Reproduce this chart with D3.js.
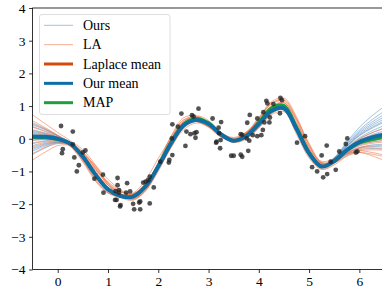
<!DOCTYPE html>
<html><head><meta charset="utf-8">
<script src="https://cdn.jsdelivr.net/npm/d3@7"></script>
<style>
body{margin:0;background:#fff}
text{font-family:"Liberation Serif","DejaVu Serif",serif}
</style>
</head><body>
<svg id="c" width="382" height="294"></svg>
<script>
// ---------- data ----------
const xGrid = [-0.5,-0.25,0,0.25,0.5,0.75,1,1.25,1.5,1.75,2,2.25,2.5,2.75,3,3.25,3.5,3.75,4,4.25,4.5,4.75,5,5.25,5.5,5.75,6,6.25,6.5];
const ourMean     = [0.07,0.06,0.0,-0.15,-0.55,-1.1,-1.55,-1.75,-1.77,-1.45,-0.85,-0.15,0.4,0.57,0.45,0.13,-0.06,0.08,0.45,0.85,0.93,0.3,-0.45,-0.85,-0.68,-0.35,-0.1,0.04,0.13];
const laplaceMean = [0.05,0.04,-0.01,-0.16,-0.56,-1.1,-1.54,-1.74,-1.76,-1.45,-0.85,-0.14,0.42,0.58,0.46,0.13,-0.06,0.09,0.47,0.88,0.95,0.32,-0.44,-0.84,-0.68,-0.35,-0.12,-0.02,0.05];
const mapCurve    = [0.02,0.02,-0.03,-0.15,-0.53,-1.08,-1.55,-1.76,-1.77,-1.43,-0.8,-0.1,0.45,0.63,0.5,0.15,-0.05,0.11,0.52,0.95,1.03,0.38,-0.4,-0.84,-0.7,-0.37,-0.14,-0.04,0.04];

// deviation of each "Ours" sample from ourMean, read at xGrid
const ourSampleDeviations = [
[0.42,0.25,0.1,0.03,0.01,0,-0.01,0,0.01,0.02,0.01,0,-0.01,-0.02,-0.01,0,0.01,0.02,0.01,0,-0.01,0,0.01,0.03,0.1,0.25,0.45,0.66,0.86],
[0.3,0.18,0.08,0.02,0,-0.01,0,0.01,0.02,0.01,0,-0.01,-0.02,-0.01,0,0.01,0.02,0.01,0,-0.01,-0.02,-0.01,0,0.02,0.08,0.18,0.32,0.47,0.62],
[0.2,0.12,0.05,0.02,0.01,0,0.01,0.02,0.01,0,-0.01,0,0.01,0.02,0.01,0,-0.01,-0.02,-0.01,0,0.01,0.02,0.01,0.01,0.05,0.13,0.24,0.36,0.48],
[0.12,0.07,0.03,0.01,0,-0.01,-0.02,-0.01,0,0.01,0.02,0.01,0,-0.01,-0.02,-0.01,0,0.01,0.02,0.01,0,-0.01,-0.01,0,0.04,0.1,0.19,0.28,0.38],
[0.05,0.03,0.01,0,0.01,0.02,0.01,0,-0.01,-0.02,-0.01,0,0.01,0.02,0.01,0,-0.01,-0.01,0,0.01,0.02,0.01,0,0.01,0.03,0.07,0.13,0.2,0.28],
[-0.05,-0.03,-0.01,0,0,0.01,0.02,0.01,0,-0.01,-0.02,-0.01,0,0.01,0.02,0.01,0,-0.01,-0.02,-0.01,0,0.01,0.01,0,0.02,0.05,0.09,0.14,0.2],
[-0.12,-0.07,-0.03,-0.01,0,0,-0.01,-0.02,-0.01,0,0.01,0.02,0.01,0,-0.01,-0.02,-0.01,0,0.01,0.02,0.01,0,-0.01,-0.01,0,0.02,0.05,0.08,0.12],
[-0.2,-0.12,-0.05,-0.02,-0.01,0,0.01,0.02,0.01,0,-0.01,-0.02,-0.01,0,0.01,0.02,0.01,0,-0.01,-0.02,-0.01,0,0.01,0.01,0,0,0.01,0.02,0.03],
[-0.28,-0.17,-0.07,-0.02,0,0.01,0,-0.01,-0.02,-0.01,0,0.01,0.02,0.01,0,-0.01,-0.02,-0.01,0,0.01,0.02,0.01,0,-0.01,-0.01,-0.02,-0.04,-0.06,-0.08],
[-0.36,-0.22,-0.1,-0.03,-0.01,0,0.01,0,-0.01,-0.02,-0.01,0,0.01,0.02,0.01,0,-0.01,-0.02,-0.01,0,0.01,0,-0.01,-0.02,-0.03,-0.06,-0.1,-0.14,-0.18],
[-0.45,-0.28,-0.12,-0.04,-0.01,0,-0.01,-0.02,-0.01,0,0.01,0.02,0.01,0,-0.01,-0.02,-0.01,0,0.01,0.02,0.01,0,-0.01,-0.02,-0.05,-0.1,-0.17,-0.23,-0.3],
[-0.55,-0.34,-0.15,-0.05,-0.02,0,0.01,0.02,0.01,0,-0.01,-0.02,-0.01,0,0.01,0.02,0.01,0,-0.01,-0.02,-0.01,0,0.01,-0.01,-0.06,-0.14,-0.24,-0.34,-0.45],
[0.35,0.22,0.09,0.03,0.01,0,-0.01,-0.01,0,0.01,0.02,0.01,0,-0.01,-0.02,-0.01,0,0.01,0.02,0.01,0,-0.01,-0.01,0.02,0.09,0.21,0.37,0.54,0.72],
[-0.02,-0.01,0,0,0.01,0.01,0,-0.01,-0.02,-0.01,0,0.01,0.02,0.01,0,-0.01,-0.02,-0.01,0,0.01,0.02,0.01,0,0.02,0.07,0.16,0.28,0.41,0.55],
[0.15,0.09,0.04,0.01,0,0,0.01,0.01,0,-0.01,-0.02,-0.01,0,0.01,0.02,0.01,0,-0.01,-0.02,-0.01,0,0.01,0,-0.02,-0.05,-0.11,-0.19,-0.28,-0.38],
[-0.4,-0.25,-0.11,-0.03,-0.01,0,0,0.01,0.02,0.01,0,-0.01,-0.02,-0.01,0,0.01,0.02,0.01,0,-0.01,-0.02,-0.01,0,0.01,0.05,0.12,0.21,0.31,0.42]
];

// deviation of each "LA" sample from laplaceMean, read at xGrid
const laSampleDeviations = [
[0.68,0.42,0.2,0.1,0.22,0.3,0.15,0.05,0.1,0.2,0.25,0.15,0.08,0.12,0.1,0.05,0.08,0.1,0.15,0.2,0.25,0.3,0.25,0.1,0.0,-0.12,-0.3,-0.5,-0.72],
[0.5,0.3,0.12,0.02,0.1,0.2,0.12,0.0,-0.05,-0.05,0.05,0.1,0.05,0.0,-0.05,-0.02,0.03,0.08,0.1,0.12,0.15,0.2,0.15,0.05,0.02,0.05,0.12,0.2,0.28],
[0.3,0.18,0.06,-0.05,-0.12,-0.15,-0.1,-0.05,-0.08,-0.12,-0.15,-0.1,-0.05,0.0,0.02,0.0,-0.05,-0.1,-0.12,-0.1,-0.05,-0.02,-0.05,-0.08,-0.08,-0.04,0.02,0.06,0.1],
[0.12,0.06,0.0,0.05,0.15,0.25,0.2,0.05,-0.08,-0.12,-0.05,0.05,0.1,0.08,0.0,-0.05,-0.05,0.0,0.05,0.1,0.05,-0.05,-0.08,-0.05,0.0,-0.02,-0.05,-0.08,-0.1],
[-0.1,-0.06,-0.02,0.02,0.08,0.12,0.05,-0.05,-0.12,-0.1,0.0,0.12,0.15,0.1,0.02,-0.02,0.0,0.05,0.12,0.18,0.22,0.25,0.15,0.02,-0.05,-0.1,-0.15,-0.2,-0.25],
[-0.3,-0.18,-0.08,0.0,0.1,0.18,0.12,0.02,-0.1,-0.15,-0.05,0.1,0.05,-0.05,-0.1,-0.08,0.02,0.08,0.1,0.05,-0.08,-0.18,-0.15,-0.1,-0.12,-0.18,-0.25,-0.32,-0.4],
[-0.5,-0.3,-0.12,-0.05,-0.1,-0.15,-0.12,-0.05,0.05,0.1,0.0,-0.12,-0.15,-0.1,-0.1,-0.05,0.0,-0.05,-0.12,-0.15,-0.12,-0.05,0.05,0.08,0.0,-0.12,-0.25,-0.4,-0.55],
[-0.7,-0.45,-0.2,-0.05,0.05,0.15,0.22,0.15,0.05,0.05,0.12,0.2,0.15,0.05,0.0,0.02,0.05,0.1,0.18,0.22,0.18,0.1,0.12,0.15,0.08,0.05,0.08,0.12,0.15],
[0.2,0.12,0.04,0.0,0.12,0.28,0.3,0.18,0.05,-0.02,0.0,0.05,0.02,-0.05,-0.08,-0.02,0.05,0.1,0.08,0.02,0.05,0.15,0.2,0.1,-0.02,-0.1,-0.18,-0.26,-0.35],
[0.4,0.25,0.1,0.02,0.0,0.05,0.12,0.12,0.08,0.05,0.08,0.12,0.1,0.05,0.02,0.05,0.1,0.12,0.1,0.08,0.15,0.28,0.3,0.12,-0.05,-0.18,-0.3,-0.45,-0.6],
[0.0,0.0,-0.02,-0.08,-0.15,-0.2,-0.12,0.0,0.08,0.05,-0.08,-0.15,-0.1,-0.05,-0.1,-0.08,-0.02,-0.08,-0.15,-0.12,-0.05,0.0,0.05,0.1,0.05,-0.02,-0.02,-0.01,0.0],
[-0.2,-0.12,-0.05,0.02,0.15,0.22,0.18,0.12,0.05,0.02,0.1,0.2,0.22,0.12,0.02,-0.02,0.0,0.05,0.15,0.25,0.3,0.35,0.25,0.08,-0.05,-0.08,-0.1,-0.12,-0.15]
];

const pointsX = [0.066,0.30,0.10,0.085,0.30,0.33,0.42,0.38,0.55,0.50,0.90,0.73,0.91,1.19,1.19,1.22,1.38,1.17,1.24,1.15,1.22,1.36,1.44,1.14,1.25,1.50,1.62,1.64,1.52,1.64,1.83,1.70,1.75,1.80,1.83,1.91,2.04,2.22,2.21,2.28,2.54,2.27,2.28,2.39,2.46,2.67,2.70,2.80,2.64,2.56,2.74,2.72,2.76,3.08,3.25,3.20,3.16,3.24,3.23,3.21,3.15,3.45,3.50,3.64,3.67,3.64,3.67,3.76,3.77,3.82,3.79,3.81,3.88,3.97,4.05,4.08,4.11,3.97,4.09,4.15,4.17,4.21,4.22,4.29,4.43,4.46,4.42,4.76,4.92,5.06,5.16,5.35,5.76,5.73,5.25,5.28,5.36,5.43,5.53,5.60,5.93,5.96];
const pointsY = [0.39,0.22,-0.32,-0.44,-0.17,-0.57,-0.81,-1.0,-0.36,-0.42,-1.1,-1.22,-1.65,-1.2,-1.42,-1.57,-1.36,-1.87,-2.07,-1.6,-1.65,-1.65,-1.61,-1.87,-2.03,-1.99,-1.95,-1.92,-2.16,-2.16,-1.98,-1.34,-1.31,-1.27,-1.16,-1.49,-0.7,-0.65,-0.73,-0.5,-0.22,0.01,0.44,0.37,0.77,0.72,0.68,0.92,0.14,0.22,0.03,0.17,0.2,0.62,0.51,0.34,-0.09,-0.04,-0.29,0.17,-0.12,-0.52,-0.52,-0.49,-0.55,0.14,0.12,0.01,0.49,0.73,-0.37,-0.06,0.11,0.08,0.11,0.27,0.5,0.62,0.81,1.16,1.08,0.5,0.65,1.06,1.25,1.18,0.78,-0.12,0.08,-0.87,-1.0,-0.21,0.01,-0.16,-0.51,-1.18,-1.08,-0.7,-0.95,-0.39,-0.42,-0.39];

const xTicks = [0,1,2,3,4,5,6];
const yTicks = [-4,-3,-2,-1,0,1,2,3,4];
const legendLabels = ["Ours","LA","Laplace mean","Our mean","MAP"];

// ---------- drawing ----------
const svg = d3.select("#c");
const L = 32.6, R = 384.5, T = 8, B = 269.5;
const x = d3.scaleLinear().domain([-0.5, 6.5]).range([L, R]);
const y = d3.scaleLinear().domain([-4, 4]).range([B, T]);

svg.append("defs").append("clipPath").attr("id","clip")
  .append("rect").attr("x",L).attr("y",T).attr("width",R-L).attr("height",B-T);

const line = d3.line().x(d=>x(d[0])).y(d=>y(d[1])).curve(d3.curveCatmullRom);
const plot = svg.append("g").attr("clip-path","url(#clip)");

const colOurs = "#4a86bb", colLA = "#f07a4e", colLapMean = "#d44a0c", colOurMean = "#0e6fa5", colMAP = "#1f9e3b";

ourSampleDeviations.forEach(dev => {
  plot.append("path").attr("d", line(xGrid.map((v,i)=>[v, ourMean[i]+dev[i]])))
    .attr("fill","none").attr("stroke",colOurs).attr("stroke-opacity",0.5).attr("stroke-width",1);
});
laSampleDeviations.forEach(dev => {
  plot.append("path").attr("d", line(xGrid.map((v,i)=>[v, laplaceMean[i]+dev[i]])))
    .attr("fill","none").attr("stroke",colLA).attr("stroke-opacity",0.6).attr("stroke-width",1);
});
plot.append("path").attr("d", line(xGrid.map((v,i)=>[v, laplaceMean[i]])))
  .attr("fill","none").attr("stroke",colLapMean).attr("stroke-width",3);
plot.append("path").attr("d", line(xGrid.map((v,i)=>[v, mapCurve[i]])))
  .attr("fill","none").attr("stroke",colMAP).attr("stroke-width",2.5);
plot.append("path").attr("d", line(xGrid.map((v,i)=>[v, ourMean[i]])))
  .attr("fill","none").attr("stroke",colOurMean).attr("stroke-width",4);

plot.selectAll("circle.pt").data(pointsX.map((v,i)=>[v,pointsY[i]])).join("circle")
  .attr("class","pt").attr("cx",d=>x(d[0])).attr("cy",d=>y(d[1])).attr("r",2.4)
  .attr("fill","#222").attr("fill-opacity",0.78);

// axes
const fmt = d => d3.format("d")(d).replace("-", "\u2212");
const ax = svg.append("g").attr("transform",`translate(0,${B})`)
  .call(d3.axisBottom(x).tickValues(xTicks).tickSize(3.5).tickPadding(3.5).tickFormat(fmt));
const ay = svg.append("g").attr("transform",`translate(${L},0)`)
  .call(d3.axisLeft(y).tickValues(yTicks).tickSize(3.5).tickPadding(3.5).tickFormat(fmt));
[ax,ay].forEach(g=>{
  g.select(".domain").remove();
  g.selectAll(".tick line").attr("stroke","#000").attr("stroke-width",0.8);
  g.selectAll(".tick text").attr("fill","#000").style("font-family",'"Liberation Serif",serif').style("font-size","13.5px");
});
// spines
svg.append("rect").attr("x",L).attr("y",T).attr("width",R-L).attr("height",B-T)
  .attr("fill","none").attr("stroke","#000").attr("stroke-width",0.8);

// legend
const lg = svg.append("g");
lg.append("rect").attr("x",39.5).attr("y",14.5).attr("width",130.5).attr("height",100)
  .attr("rx",2.5).attr("fill","#fff").attr("fill-opacity",0.8).attr("stroke","#d6d6d6").attr("stroke-width",0.8);
const lgStyles = [
  {c:colOurs, w:1, o:0.5},
  {c:colLA, w:1, o:0.6},
  {c:colLapMean, w:3, o:1},
  {c:colOurMean, w:3, o:1},
  {c:colMAP, w:3, o:1}
];
legendLabels.forEach((lab,i)=>{
  const yy = 25.3 + i*19.35;
  lg.append("line").attr("x1",44).attr("x2",73).attr("y1",yy).attr("y2",yy)
    .attr("stroke",lgStyles[i].c).attr("stroke-width",lgStyles[i].w).attr("stroke-opacity",lgStyles[i].o);
  lg.append("text").attr("x",83).attr("y",yy+4.6).text(lab)
    .style("font-size","14px").attr("fill","#000");
});
</script>
</body></html>
